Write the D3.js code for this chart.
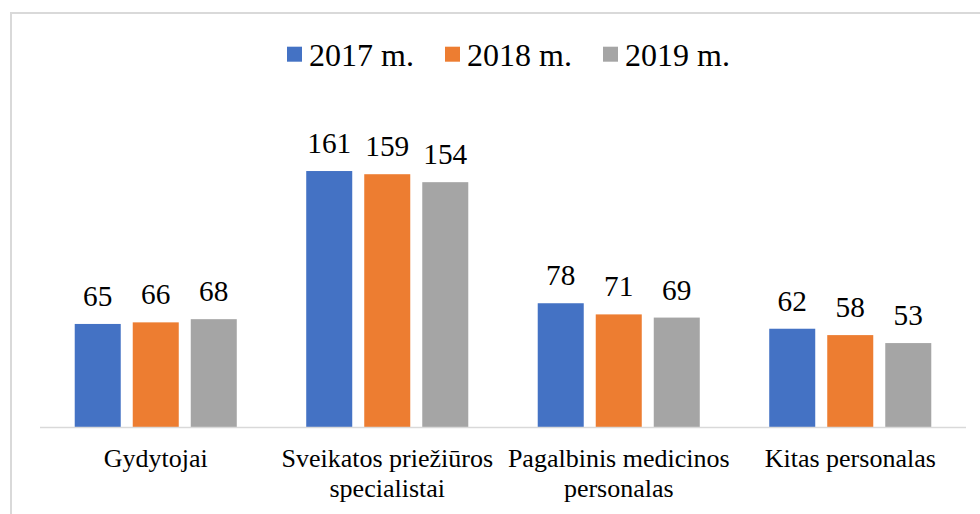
<!DOCTYPE html>
<html>
<head>
<meta charset="utf-8">
<script src="https://cdn.jsdelivr.net/npm/d3@7"></script>
<style>
  html, body { margin: 0; padding: 0; background: #fff; }
  svg { display: block; }
</style>
</head>
<body>
<div id="container"></div>
<script>
const categories = ["Gydytojai", "Sveikatos priežiūros specialistai", "Pagalbinis medicinos personalas", "Kitas personalas"];
const seriesNames = ["2017 m.", "2018 m.", "2019 m."];
const values2017 = [65, 161, 78, 62];
const values2018 = [66, 159, 71, 58];
const values2019 = [68, 154, 69, 53];
const colors = ["#4472C4", "#ED7D31", "#A5A5A5"];

const w = 980;
const h = 514;
const font = "Liberation Serif";

const allValues = [values2017, values2018, values2019];
const rows = categories.map((c, i) => ({
    cat: c,
    vals: seriesNames.map((s, j) => ({ series: s, idx: j, value: allValues[j][i] }))
}));

const svg = d3.select('#container').append('svg')
    .attr('width', w)
    .attr('height', h)
    .attr('font-family', font)
    .style('background', '#fff');

// chart frame (right and bottom edges fall outside the view)
svg.append('rect')
    .attr('x', 11).attr('y', 13)
    .attr('width', 1000).attr('height', 540)
    .attr('fill', 'none')
    .attr('stroke', '#d9d9d9')
    .attr('stroke-width', 2);

const x0 = d3.scaleBand().domain(categories).range([40, 966])
    .paddingInner(0.3).paddingOuter(0.15);
const x1 = d3.scaleBand().domain(seriesNames).range([0, x0.bandwidth()])
    .paddingInner(12 / 58);
const y = d3.scaleLinear().domain([0, 200]).range([427.5, 108.9]);

const groups = svg.selectAll('.group').data(rows)
    .enter().append('g')
    .attr('class', 'group')
    .attr('transform', d => `translate(${x0(d.cat)},0)`);

groups.selectAll('rect').data(d => d.vals)
    .enter().append('rect')
    .attr('x', d => x1(d.series))
    .attr('y', d => y(d.value))
    .attr('width', x1.bandwidth())
    .attr('height', d => y(0) - y(d.value))
    .attr('fill', d => colors[d.idx]);

groups.selectAll('.lbl').data(d => d.vals)
    .enter().append('text')
    .attr('class', 'lbl')
    .attr('x', d => x1(d.series) + x1.bandwidth() / 2)
    .attr('y', d => y(d.value) - 18)
    .attr('text-anchor', 'middle')
    .attr('font-family', font)
    .attr('font-size', 29.3)
    .attr('fill', '#000')
    .text(d => d.value);

// x axis
const xAxis = d3.axisBottom(x0).tickSize(0).tickPadding(0);
const xAxisGroup = svg.append('g')
    .attr('transform', `translate(0,${y(0)})`)
    .call(xAxis)
    .attr('font-family', font)
    .attr('font-size', 26);
xAxisGroup.select('.domain')
    .attr('d', `M40,0H966`)
    .attr('stroke', '#d9d9d9')
    .attr('stroke-width', 1.5);
xAxisGroup.selectAll('.tick text')
    .attr('fill', '#000')
    .attr('y', 39)
    .attr('dy', 0)
    .each(function () { wrap(d3.select(this), 232); });

function wrap(text, width) {
    const words = text.text().split(/\s+/);
    text.text(null);
    let line = [];
    let tspan = text.append('tspan').attr('x', 0).attr('dy', 0);
    words.forEach(word => {
        line.push(word);
        tspan.text(line.join(' '));
        if (tspan.node().getComputedTextLength() > width && line.length > 1) {
            line.pop();
            tspan.text(line.join(' '));
            line = [word];
            tspan = text.append('tspan').attr('x', 0).attr('dy', 30).text(word);
        }
    });
}

// legend
const legendX = 287;
const legendStep = 158;
const legend = svg.selectAll('.legend').data(seriesNames)
    .enter().append('g')
    .attr('class', 'legend')
    .attr('transform', (d, i) => `translate(${legendX + i * legendStep},0)`);
legend.append('rect')
    .attr('x', 0).attr('y', 46.7)
    .attr('width', 15).attr('height', 15)
    .attr('fill', (d, i) => colors[i]);
legend.append('text')
    .attr('x', 22).attr('y', 66)
    .attr('font-family', font)
    .attr('font-size', 32)
    .attr('fill', '#000')
    .text(d => d);
</script>
</body>
</html>
